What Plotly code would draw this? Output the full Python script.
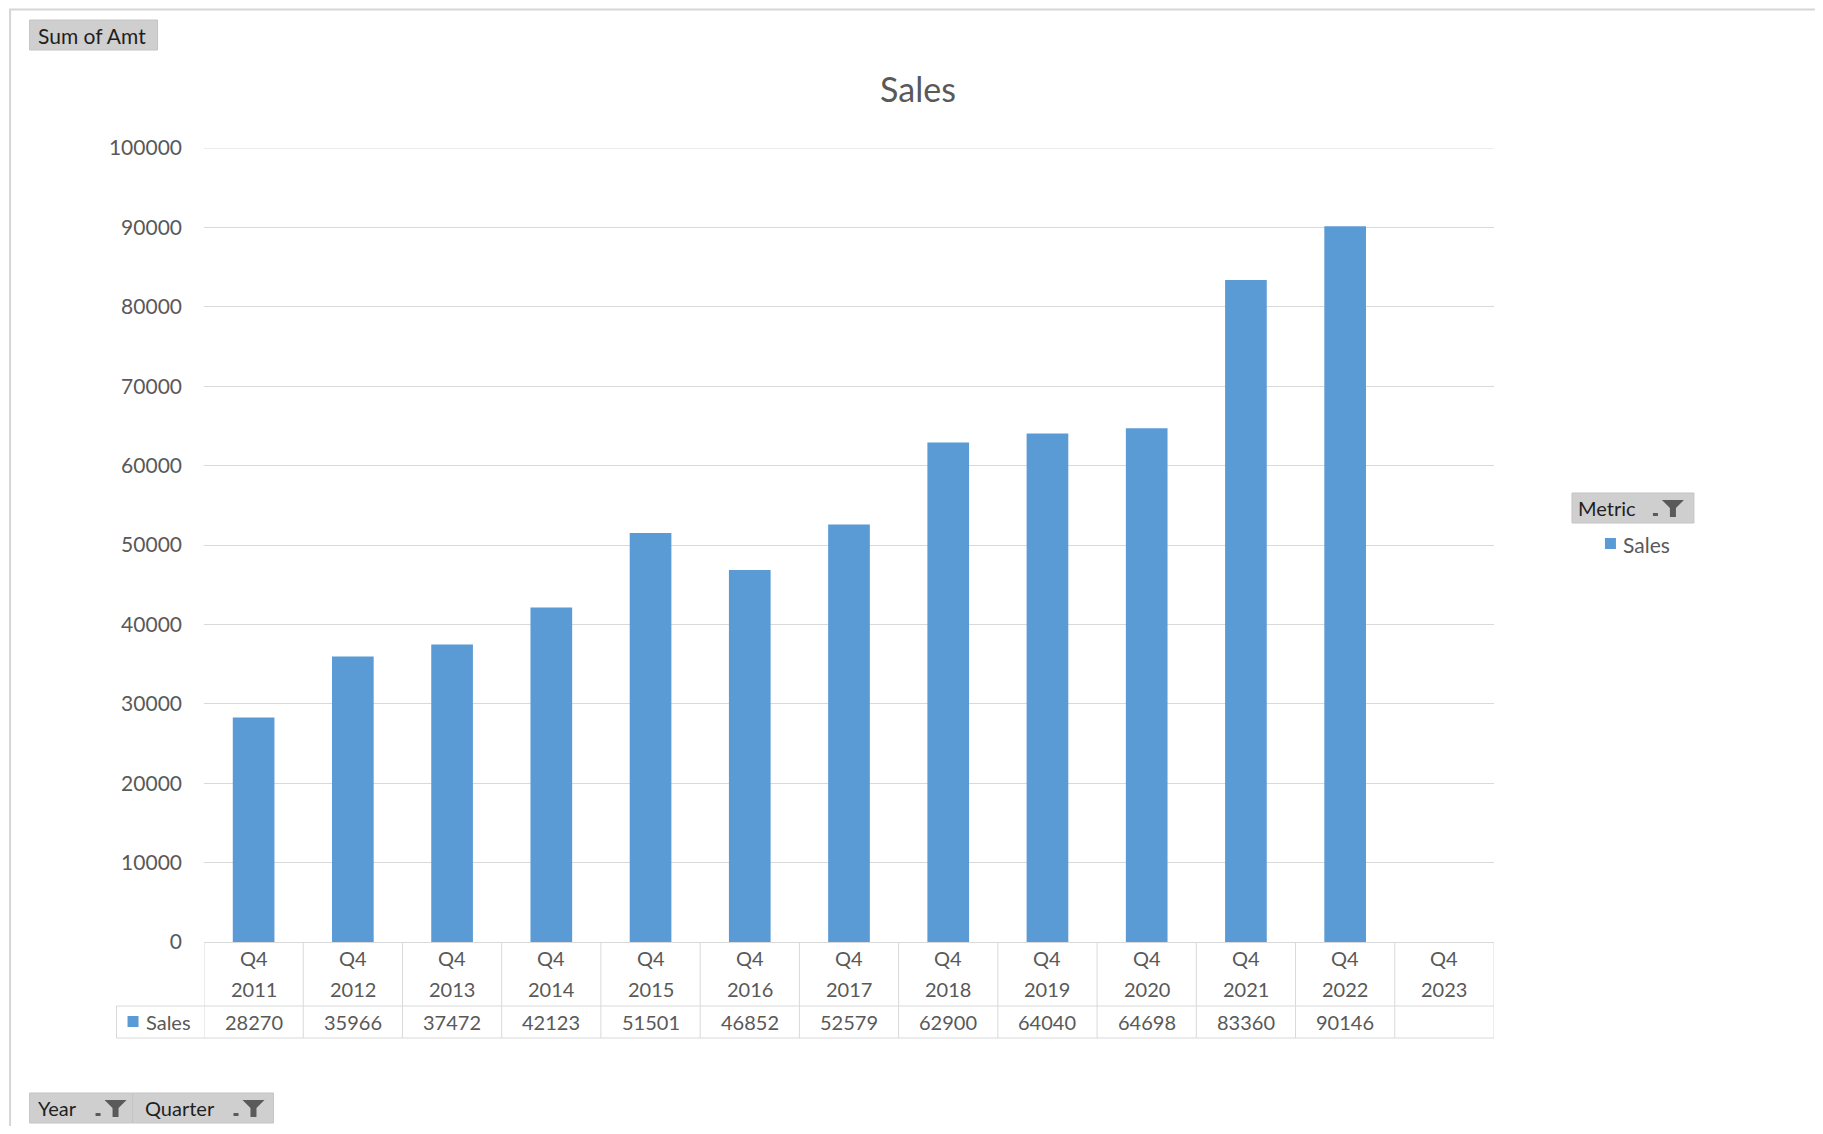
import plotly.graph_objects as go

# ---------------- data ----------------
years = ["2011", "2012", "2013", "2014", "2015", "2016", "2017",
         "2018", "2019", "2020", "2021", "2022", "2023"]
quarters = ["Q4"] * 13
sales = [28270, 35966, 37472, 42123, 51501, 46852, 52579,
         62900, 64040, 64698, 83360, 90146, None]
y_ticks = [0, 10000, 20000, 30000, 40000, 50000, 60000, 70000, 80000, 90000, 100000]
series_name = "Sales"
chart_title = "Sales"

# ---------------- layout geometry (page pixels) ----------------
OFF = 8                      # browser body margin
W, H = 1823 - 2 * OFF, 1134 - 2 * OFF
L, R, T, B = 203.5, 1494, 148, 942   # plot area in page pixels
PW, PH = R - L, B - T

def px(x):
    return (x - L) / PW

def py(y):
    return (B - y) / PH

BAR = "#5B9BD5"
GRID = "#D9D9D9"
TXT = "#595959"
FONT = "Lato"

fig = go.Figure()
fig.add_trace(go.Bar(x=years, y=sales, name=series_name,
                     marker=dict(color=BAR, line=dict(width=0)),
                     showlegend=False))

shapes = []
annotations = []

# outer chart border (top and left visible)
shapes.append(dict(type="rect", xref="paper", yref="paper",
                   x0=px(OFF + 1.5), x1=px(1900), y0=py(OFF + 1.5), y1=py(1200),
                   line=dict(color="#D6D6D6", width=2), layer="below"))

# top gridline at the range end
shapes.append(dict(type="line", xref="paper", yref="y", x0=0, x1=1,
                   y0=y_ticks[-1], y1=y_ticks[-1],
                   line=dict(color=GRID, width=1), layer="below"))

# ---------------- data table ----------------
n = len(years)
row1, row2 = 1006, 1038
for i in range(n + 1):
    shapes.append(dict(type="line", xref="x", yref="paper",
                       x0=i - 0.5, x1=i - 0.5, y0=py(B), y1=py(row2),
                       line=dict(color=GRID, width=1)))
for yy in (row1, row2):
    shapes.append(dict(type="line", xref="paper", yref="paper",
                       x0=px(116), x1=px(R), y0=py(yy), y1=py(yy),
                       line=dict(color=GRID, width=1)))
shapes.append(dict(type="line", xref="paper", yref="paper",
                   x0=px(116), x1=px(116), y0=py(row1), y1=py(row2),
                   line=dict(color=GRID, width=1)))
shapes.append(dict(type="rect", xref="paper", yref="paper",
                   x0=px(127), x1=px(138), y0=py(1016), y1=py(1027),
                   fillcolor=BAR, line=dict(width=0)))
tbl_font = dict(family=FONT, size=20, color=TXT)
annotations.append(dict(text=series_name, xref="paper", yref="paper",
                        x=px(143), y=py(1022), xanchor="left", yanchor="middle",
                        showarrow=False, font=tbl_font))

for i, (q, yr, v) in enumerate(zip(quarters, years, sales)):
    annotations.append(dict(text=q, xref="x", yref="paper", x=i, y=py(958),
                            xanchor="center", yanchor="middle", showarrow=False,
                            font=tbl_font))
    annotations.append(dict(text=yr, xref="x", yref="paper", x=i, y=py(989),
                            xanchor="center", yanchor="middle", showarrow=False,
                            font=tbl_font))
    if v is not None:
        annotations.append(dict(text=str(v), xref="x", yref="paper", x=i, y=py(1022),
                                xanchor="center", yanchor="middle", showarrow=False,
                                font=tbl_font))

# ---------------- pivot buttons ----------------
def button(x0, x1, y0, y1):
    shapes.append(dict(type="rect", xref="paper", yref="paper",
                       x0=px(x0), x1=px(x1), y0=py(y0), y1=py(y1),
                       fillcolor="#CFCFCF", line=dict(color="#C4C4C4", width=1)))

def funnel(cx, cy):
    pts = [(cx - 11, cy - 8), (cx + 11, cy - 8), (cx + 3, cy), (cx + 3, cy + 9),
           (cx - 3, cy + 9), (cx - 3, cy)]
    path = "M " + " L ".join(f"{px(a):.5f},{py(b):.5f}" for a, b in pts) + " Z"
    shapes.append(dict(type="path", xref="paper", yref="paper", path=path,
                       fillcolor="#5A5A5A", line=dict(width=0)))
    shapes.append(dict(type="rect", xref="paper", yref="paper",
                       x0=px(cx - 20), x1=px(cx - 15), y0=py(cy + 5), y1=py(cy + 8),
                       fillcolor="#5A5A5A", line=dict(width=0)))

btn_font = dict(family=FONT, size=20, color="#1F1F1F")

button(29, 157, 20, 50)
annotations.append(dict(text="Sum of Amt", xref="paper", yref="paper",
                        x=px(35), y=py(35), xanchor="left", yanchor="middle",
                        showarrow=False, font=dict(family=FONT, size=21, color="#1F1F1F")))

button(1572, 1694, 493, 523)
annotations.append(dict(text="Metric", xref="paper", yref="paper",
                        x=px(1576), y=py(508), xanchor="left", yanchor="middle",
                        showarrow=False, font=btn_font))
funnel(1673, 508)

button(29, 132, 1093, 1123)
button(132, 273, 1093, 1123)
annotations.append(dict(text="Year", xref="paper", yref="paper",
                        x=px(35), y=py(1108), xanchor="left", yanchor="middle",
                        showarrow=False, font=btn_font))
funnel(115, 1108)
annotations.append(dict(text="Quarter", xref="paper", yref="paper",
                        x=px(142), y=py(1108), xanchor="left", yanchor="middle",
                        showarrow=False, font=btn_font))
funnel(253, 1108)

# ---------------- legend (custom) ----------------
shapes.append(dict(type="rect", xref="paper", yref="paper",
                   x0=px(1605), x1=px(1616), y0=py(538), y1=py(549),
                   fillcolor=BAR, line=dict(width=0)))
annotations.append(dict(text=series_name, xref="paper", yref="paper",
                        x=px(1621), y=py(544), xanchor="left", yanchor="middle",
                        showarrow=False, font=dict(family=FONT, size=21, color=TXT)))

fig.update_layout(
    width=W, height=H,
    margin=dict(l=L - OFF, r=W - (R - OFF), t=T - OFF, b=H - (B - OFF), pad=0),
    paper_bgcolor="white", plot_bgcolor="white",
    title=dict(text=chart_title, x=(918 - OFF) / W, xref="container", xanchor="center",
               y=1 - (90 - OFF) / H, yref="container", yanchor="middle",
               font=dict(family=FONT, size=34, color=TXT)),
    bargap=0.58,
    showlegend=False,
    xaxis=dict(type="category", categoryorder="array", categoryarray=years,
               range=[-0.5, n - 0.5], showticklabels=False, ticks="",
               showgrid=False, showline=True, linecolor=GRID, linewidth=1,
               zeroline=False, fixedrange=True),
    yaxis=dict(range=[0, 100000], tickvals=y_ticks,
               ticktext=[str(t) for t in y_ticks],
               showgrid=True, gridcolor=GRID, gridwidth=1,
               showline=False, zeroline=False, ticks="",
               ticklabelstandoff=21,
               tickfont=dict(family=FONT, size=21, color=TXT)),
    shapes=shapes,
    annotations=annotations,
)

fig.write_html("out.html")
